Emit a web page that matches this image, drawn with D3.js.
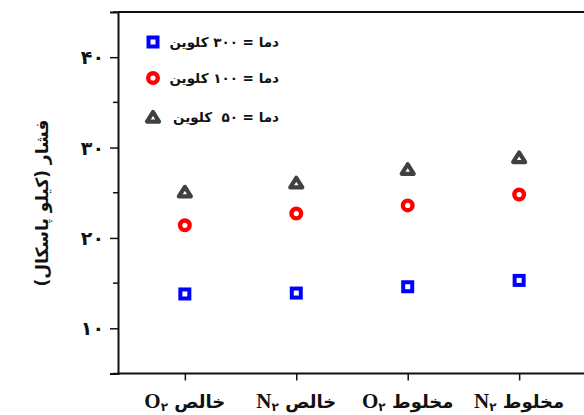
<!DOCTYPE html>
<html>
<head>
<meta charset="utf-8">
<script src="https://cdn.jsdelivr.net/npm/d3@7"></script>
<style>
body { margin: 0; background: #fff; }
text { font-family: "DejaVu Sans", sans-serif; font-weight: bold; }
</style>
</head>
<body>
<svg id="chart" width="584" height="415"></svg>
<script>
var formulas = ["O", "N", "O", "N"]
var words = ["خالص", "خالص", "مخلوط", "مخلوط"]
var t300 = [13.8, 13.9, 14.6, 15.3]
var t100 = [21.4, 22.7, 23.6, 24.8]
var t50 = [25.1, 26.1, 27.6, 28.9]
var majorTicks = [10, 20, 30, 40]
var minorTicks = [5, 15, 25, 35, 45]
var legendLabels = ["دما = ۳۰۰ کلوین", "دما = ۱۰۰ کلوین", "دما = ۵۰  کلوین"]
var yTitle = "فشار (کیلو پاسکال)"

var width = 584, height = 415,
padLeft = 118, padRight = 586, padTop = 12, padBottom = 373.5

var fa = function(n){ return String(n).replace(/\d/g, function(c){ return "۰۱۲۳۴۵۶۷۸۹"[c] }) }

var svg = d3.select("#chart")

var x = d3.scalePoint()
.domain(d3.range(formulas.length))
.range([padLeft, padRight])
.padding(0.6)

var y = d3.scaleLinear()
.domain([5, 45])
.range([padBottom, padTop])

// frame: top line, left and bottom axes
svg.append("line")
.attr("x1", padLeft).attr("x2", width + 5)
.attr("y1", padTop).attr("y2", padTop)
.attr("stroke", "#111").attr("stroke-width", 2)

var yAxis = d3.axisLeft(y).tickValues(majorTicks).tickSize(8).tickFormat(fa)
var gy = svg.append("g")
.attr("transform", "translate(" + padLeft + ",0)")
.call(yAxis)
gy.select(".domain").attr("stroke", "#111").attr("stroke-width", 2)
gy.selectAll(".tick line").attr("stroke", "#111").attr("stroke-width", 1.5)
gy.selectAll(".tick text")
.attr("x", -14)
.attr("dy", "0.35em")
.style("font-size", "19px")
.style("font-family", "DejaVu Sans")
.style("font-weight", "bold")
.attr("fill", "#111")

gy.selectAll(".minor")
.data(minorTicks)
.enter()
.append("line")
.attr("class", "minor")
.attr("x1", -5).attr("x2", 0)
.attr("y1", function(d){ return y(d) })
.attr("y2", function(d){ return y(d) })
.attr("stroke", "#111").attr("stroke-width", 1.5)

var xAxis = d3.axisBottom(x).tickSize(7).tickFormat("")
var gx = svg.append("g")
.attr("transform", "translate(0," + padBottom + ")")
.call(xAxis)
gx.select(".domain").attr("stroke", "#111").attr("stroke-width", 2)
.attr("d", "M" + padLeft + ",0H" + (width + 5))
gx.selectAll(".tick line").attr("stroke", "#111").attr("stroke-width", 1.5)

// category labels: formula with subscript, then Persian word
var lab = svg.selectAll(".xlab")
.data(formulas)
.enter()
.append("text")
.attr("class", "xlab")
.attr("x", function(d, i){ return x(i) })
.attr("y", 408)
.attr("text-anchor", "middle")
.attr("fill", "#111")
lab.append("tspan")
.style("font-family", "Liberation Serif")
.style("font-size", "21px")
.text(function(d){ return d })
lab.append("tspan")
.attr("dy", 3)
.style("font-size", "12px")
.text("۲")
lab.append("tspan")
.attr("dy", -3)
.style("font-size", "18px")
.text(function(d, i){ return " " + words[i] })

// y title
svg.append("text")
.attr("transform", "translate(48,203) rotate(-90)")
.attr("text-anchor", "middle")
.attr("direction", "rtl")
.style("font-size", "17px")
.attr("fill", "#111")
.text(yTitle)

// markers
var series = [
  {values: t300, color: "#0000ff", shape: "square"},
  {values: t100, color: "#ff0000", shape: "circle"},
  {values: t50, color: "#404040", shape: "triangle"}
]

function drawMarker(sel, s) {
  if (s.shape == "square") {
    sel.append("rect")
    .attr("x", -4.5).attr("y", -4.5)
    .attr("width", 9).attr("height", 9)
    .attr("fill", "#fff").attr("stroke", s.color).attr("stroke-width", 4)
  } else if (s.shape == "circle") {
    sel.append("circle")
    .attr("r", 4.8)
    .attr("fill", "#fff").attr("stroke", s.color).attr("stroke-width", 4.4)
  } else {
    sel.append("path")
    .attr("d", "M0,-5L6,4.6L-6,4.6Z")
    .attr("fill", "#fff").attr("stroke", s.color).attr("stroke-width", 4.2)
    .attr("stroke-linejoin", "round")
  }
}

series.forEach(function(s){
  svg.append("g").selectAll("g")
  .data(s.values)
  .enter()
  .append("g")
  .attr("transform", function(d, i){ return "translate(" + x(i) + "," + y(d) + ")" })
  .each(function(){ drawMarker(d3.select(this), s) })
})

// legend
var legY = [42, 78, 117]
series.forEach(function(s, i){
  var g = svg.append("g").attr("transform", "translate(153," + legY[i] + ")")
  drawMarker(g, s)
  g.append("text")
  .attr("x", 126)
  .attr("y", 5)
  .attr("direction", "rtl")
  .attr("text-anchor", "start")
  .style("font-size", "13.5px")
  .style("white-space", "pre")
  .attr("fill", "#111")
  .text(legendLabels[i])
})
</script>
</body>
</html>
